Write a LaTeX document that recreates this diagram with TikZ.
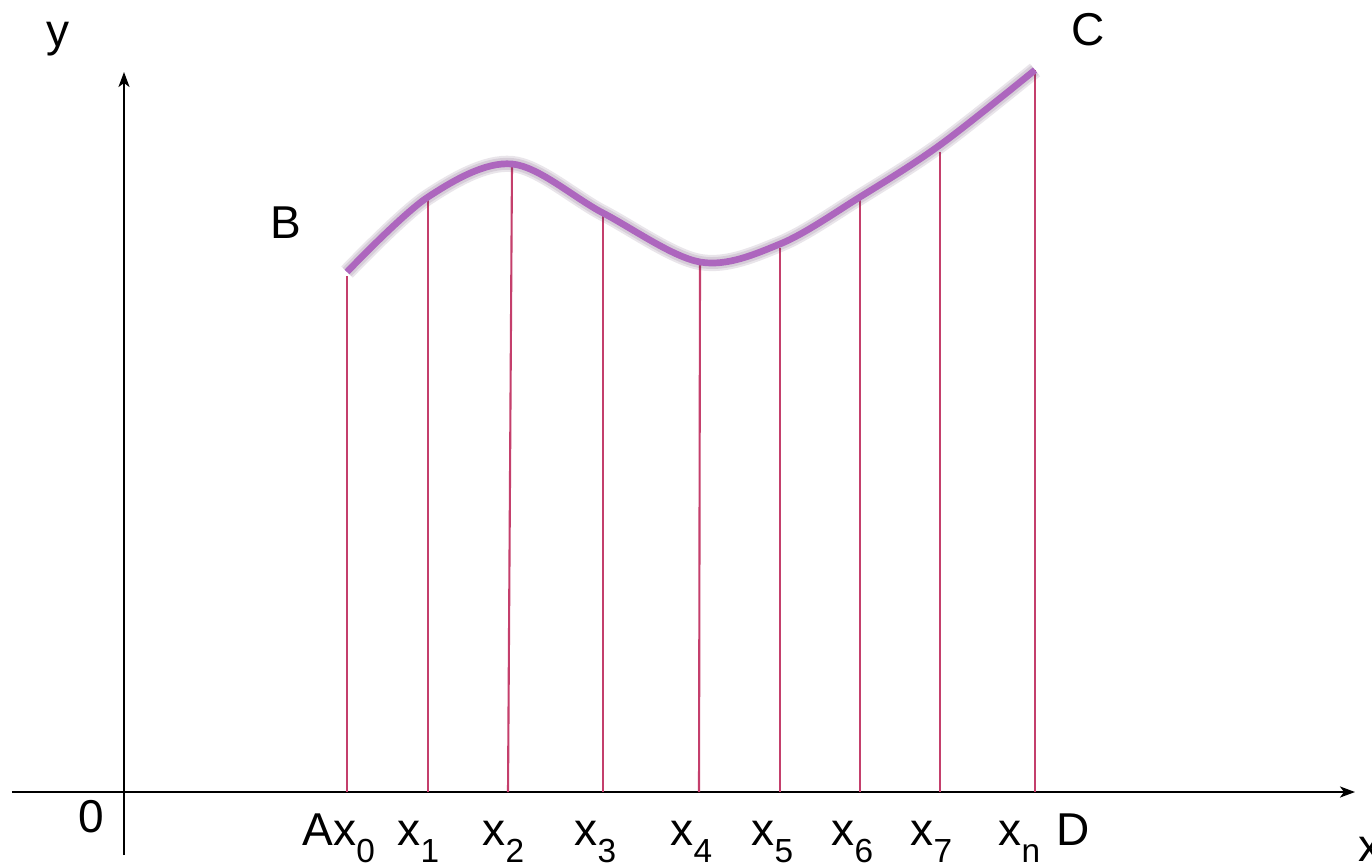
\documentclass[tikz,border=0pt]{standalone}
\usepackage{fontspec}
\setmainfont{Liberation Sans}
\usepackage{xcolor}
\usepackage{tikz}
\usetikzlibrary{arrows.meta}
\definecolor{curvepurple}{HTML}{AD66BE}
\definecolor{ordred}{HTML}{C43F6C}
\newcommand{\xsub}[1]{x\raisebox{-0.17cm}{\fontsize{9.5}{10}\selectfont #1}}
\tikzset{
  axis/.style={line width=0.6pt, black, -{Stealth[length=1.5mm, width=1.1mm, inset=0.4mm]}},
  ordinate/.style={line width=0.6pt, ordred},
  curve/.style={line width=1.9pt, curvepurple},
  curveshadow/.style={line width=#1, black!50!curvepurple, opacity=0.13},
  lbl/.style={inner sep=0pt, font=\fontsize{13.1}{15}\selectfont}
}

\begin{document}
\begin{tikzpicture}[scale=1.0]
  \useasboundingbox (0,0) rectangle (13.72,8.65);
  % eixos
  \coordinate (xstart) at (0.12,0.73);
  \coordinate (xend) at (13.55,0.73);
  \coordinate (ystart) at (1.24,0.10);
  \coordinate (yend) at (1.24,7.93);
  \draw[axis] (xstart) -- (xend);
  \draw[axis] (ystart) -- (yend);
  % pontos da curva (c), topos (t) e pes (q) das ordenadas
  \foreach \i/\xc/\yc/\yt/\xb in {0/3.47/5.93/5.89/3.47,
      1/4.28/6.68/6.65/4.28, 2/5.12/7.01/7.01/5.08,
      3/6.03/6.52/6.49/6.03, 4/7.00/6.03/6.01/6.99,
      5/7.80/6.21/6.17/7.80, 6/8.60/6.68/6.65/8.60,
      7/9.40/7.20/7.13/9.40, 8/10.35/7.95/7.95/10.35} {
    \coordinate (c\i) at (\xc,\yc);
    \coordinate (t\i) at (\xc,\yt);
    \coordinate (q\i) at (\xb,0.73);
  }
  % ordenadas
  \foreach \i in {0,...,8}
    \draw[ordinate] (q\i) -- (t\i);
  % curva BC com sombra
  \begin{scope}[yshift=-0.04cm]
    \foreach \w in {4.6pt, 3.4pt}
      \draw[curveshadow=\w] plot[smooth, tension=0.55] coordinates
        {(c0) (c1) (c2) (c3) (c4) (c5) (c6) (c7) (c8)};
  \end{scope}
  \draw[curve] plot[smooth, tension=0.55] coordinates
    {(c0) (c1) (c2) (c3) (c4) (c5) (c6) (c7) (c8)};
  % letras
  \node[lbl, anchor=base] (lbly) at (0.58,8.19) {y};
  \node[lbl, anchor=base] (lblC) at (10.88,8.20) {C};
  \node[lbl, anchor=base] (lblB) at (2.86,6.27) {B};
  \node[lbl, anchor=base] (lblO) at (0.91,0.33) {0};
  \node[lbl, anchor=base west] (lblA) at (3.02,0.20) {A\xsub{0}};
  \foreach \i/\xx in {1/3.97, 2/4.82, 3/5.74, 4/6.70, 5/7.51, 6/8.31,
      7/9.10, n/9.98}
    \node[lbl, anchor=base west] (lblx\i) at (\xx,0.20) {\xsub{\i}};
  \node[lbl, anchor=base west] (lblD) at (10.56,0.20) {D};
  \node[lbl, anchor=base west] (lblx) at (13.58,0.04) {x};
\end{tikzpicture}
\end{document}
